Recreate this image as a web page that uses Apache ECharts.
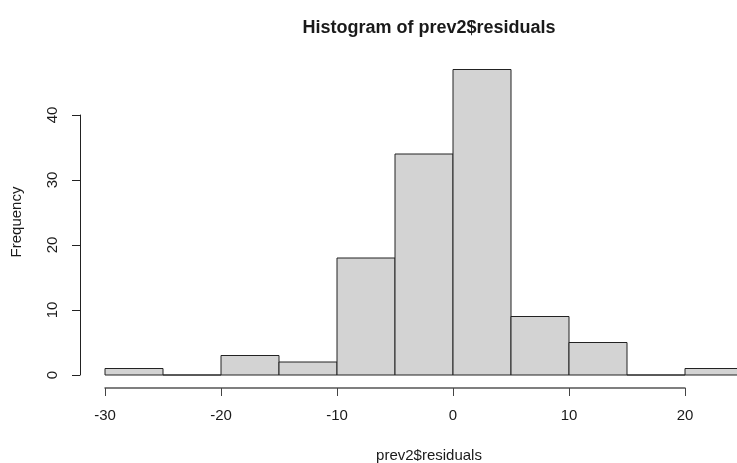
<!DOCTYPE html>
<html>
<head>
<meta charset="utf-8">
<title>Histogram of prev2$residuals</title>
<script src="https://cdn.jsdelivr.net/npm/echarts@6/dist/echarts.min.js"></script>
<style>
  html, body { margin: 0; padding: 0; background: #fff; }
  #main { width: 737px; height: 463px; }
</style>
</head>
<body>
<div id="main"></div>
<script>
// bin edges and counts
var binEdges = [-30, -25, -20, -15, -10, -5, 0, 5, 10, 15, 20, 25];
var counts = [1, 0, 3, 2, 18, 34, 47, 9, 5, 0, 1];
var xTicks = [-30, -20, -10, 0, 10, 20];
var yTicks = [0, 10, 20, 30, 40];

var bins = [];
for (var i = 0; i < counts.length; i++) {
    bins.push([binEdges[i], binEdges[i + 1], counts[i]]);
}

var labelFont = 'Liberation Sans, Arial, sans-serif';
var myChart = echarts.init(document.getElementById('main'));

var option = {
    backgroundColor: '#fff',
    animation: false,
    title: [{
        text: 'Histogram of prev2$residuals',
        left: 424,
        top: 14,
        textAlign: 'center',
        textStyle: {
            fontFamily: labelFont,
            fontSize: 18,
            fontWeight: 'bold',
            color: '#1a1a1a'
        }
    }, {
        text: 'prev2$residuals',
        left: 424,
        top: 443,
        textAlign: 'center',
        textStyle: {
            fontFamily: labelFont,
            fontSize: 15,
            fontWeight: 'normal',
            color: '#1a1a1a'
        }
    }],
    graphic: [{
        type: 'text',
        x: 17,
        y: 222,
        rotation: Math.PI / 2,
        style: {
            text: 'Frequency',
            font: '15px ' + labelFont,
            fill: '#1a1a1a',
            align: 'center',
            verticalAlign: 'middle'
        }
    }],
    grid: {
        left: 105,
        top: 115,
        width: 580,
        height: 260
    },
    xAxis: {
        type: 'value',
        min: xTicks[0],
        max: xTicks[xTicks.length - 1],
        interval: 10,
        offset: 13,
        axisLine: { show: true, onZero: false, lineStyle: { color: '#555', width: 1.5 } },
        axisTick: { show: true, length: 8, lineStyle: { color: '#444' } },
        axisLabel: {
            margin: 20,
            fontFamily: labelFont,
            fontSize: 15,
            color: '#1a1a1a'
        },
        splitLine: { show: false }
    },
    yAxis: {
        type: 'value',
        min: yTicks[0],
        max: yTicks[yTicks.length - 1],
        interval: 10,
        offset: 25,
        axisLine: { show: true, onZero: false, lineStyle: { color: '#222', width: 1 } },
        axisTick: { show: true, length: 8, lineStyle: { color: '#222' } },
        axisLabel: {
            rotate: 90,
            margin: 20,
            fontFamily: labelFont,
            fontSize: 15,
            color: '#1a1a1a'
        },
        splitLine: { show: false }
    },
    series: [{
        type: 'custom',
        clip: false,
        encode: { x: [0, 1], y: 2 },
        data: bins,
        renderItem: function (params, api) {
            var p0 = api.coord([api.value(0), api.value(2)]);
            var p1 = api.coord([api.value(1), 0]);
            return {
                type: 'rect',
                shape: {
                    x: p0[0],
                    y: p0[1],
                    width: p1[0] - p0[0],
                    height: p1[1] - p0[1]
                },
                style: {
                    fill: '#d3d3d3',
                    stroke: '#222',
                    lineWidth: 1
                }
            };
        }
    }]
};

myChart.setOption(option);
</script>
</body>
</html>
